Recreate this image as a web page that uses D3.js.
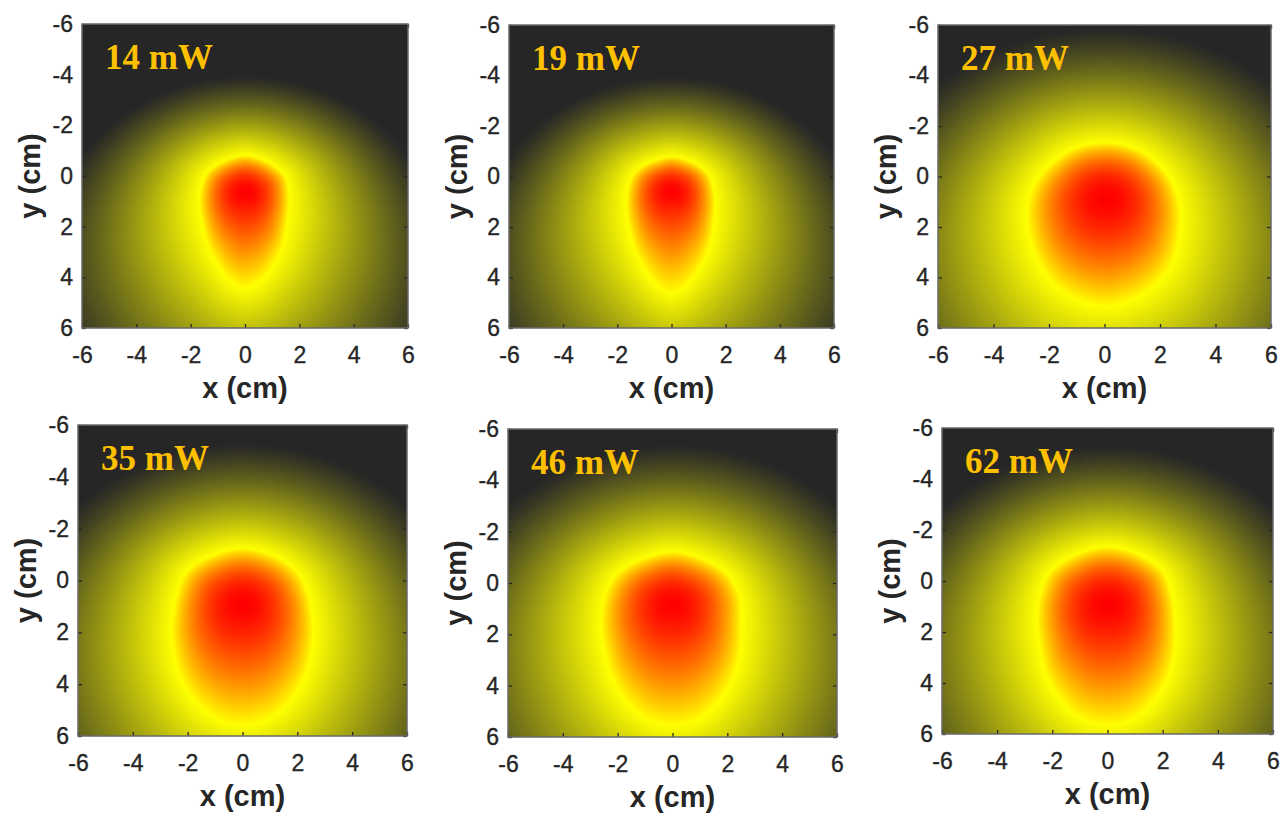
<!DOCTYPE html>
<html>
<head>
<meta charset="utf-8">
<script src="https://cdn.jsdelivr.net/npm/d3@7"></script>
<style>
  body { margin: 0; background: #ffffff; }
  svg { display: block; }
</style>
</head>
<body>
<svg id="chart" width="1280" height="816"></svg>
<script>
// ---- data -------------------------------------------------------------
// Laser power of each temperature map (mW)
const powers = [14, 19, 27, 35, 46, 62];

// Hottest point of each map, [x, y] in cm
const peaks = [[0, 0.7], [0, 0.66], [0.05, 0.95], [0, 1.0], [0, 0.93], [0, 1.0]];

// Outline of the bright-yellow iso-line of each map, [x, y] in cm, in drawing order
const ridge14 = [[0,-0.82],[0.62,-0.66],[1.15,-0.34],[1.5,0.05],[1.62,0.94],[1.52,2.0],[1.34,2.91],[0.85,3.83],[0.5,4.2],[0,4.42],
                 [-0.5,4.2],[-0.81,3.83],[-1.3,2.91],[-1.55,2.0],[-1.67,0.94],[-1.5,0.05],[-1.18,-0.34],[-0.62,-0.66]];
const ridge19 = [[0,-0.79],[0.6,-0.64],[1.11,-0.36],[1.42,0.02],[1.6,0.92],[1.54,2.0],[1.36,2.9],[0.93,3.8],[0.45,4.4],[0,4.62],
                 [-0.45,4.4],[-0.92,3.8],[-1.35,2.9],[-1.57,2.0],[-1.66,0.92],[-1.47,0.02],[-1.16,-0.36],[-0.6,-0.64]];
const ridge27 = [[0.05,-1.35],[1.15,-1.09],[2.07,-0.35],[2.55,0.5],[2.73,1.45],[2.67,2.5],[2.37,3.56],[1.6,4.48],[0.8,4.95],[0.05,5.14],
                 [-0.8,4.95],[-1.6,4.48],[-2.31,3.56],[-2.67,2.5],[-2.79,1.45],[-2.61,0.5],[-2.07,-0.35],[-1.15,-1.09]];
const ridge35 = [[0,-1.24],[1.1,-0.97],[1.97,-0.36],[2.4,0.52],[2.58,1.9],[2.5,2.8],[2.28,3.7],[1.67,4.74],[0.85,5.38],[0,5.58],
                 [-0.85,5.38],[-1.67,4.74],[-2.28,3.7],[-2.5,2.8],[-2.58,1.9],[-2.4,0.52],[-2.03,-0.36],[-1.1,-0.97]];
const ridge46 = [[0,-1.22],[1.1,-0.94],[2.02,-0.33],[2.45,0.52],[2.51,1.7],[2.45,2.8],[2.22,3.66],[1.62,4.7],[0.85,5.35],[0,5.55],
                 [-0.85,5.35],[-1.62,4.7],[-2.22,3.66],[-2.45,2.8],[-2.6,1.7],[-2.48,0.52],[-2.05,-0.33],[-1.1,-0.94]];
const ridge62 = [[0,-1.35],[1.1,-1.06],[2.02,-0.36],[2.32,0.5],[2.44,1.39],[2.42,2.8],[2.2,3.75],[1.6,4.8],[0.85,5.45],[0,5.65],
                 [-0.85,5.45],[-1.6,4.8],[-2.2,3.75],[-2.42,2.8],[-2.56,1.39],[-2.44,0.5],[-2.08,-0.36],[-1.1,-1.06]];
const ridges = [ridge14, ridge19, ridge27, ridge35, ridge46, ridge62];

// Outer edge of the warm zone of each map: circle [cx, cy, radius] in cm
const glows = [[0, 3.5, 7.45], [0, 3.5, 7.45], [0, 3.5, 9.4], [0, 3.5, 8.8], [0, 3.5, 8.9], [0, 3.5, 8.8]];

// Axis ticks (cm)
const ticks = [-6, -4, -2, 0, 2, 4, 6];
const axisDomain = [-6, 6];

// ---- layout -----------------------------------------------------------
const frames = [
  { x0: 82,  x1: 408,  y0: 24,  y1: 328 },
  { x0: 509, x1: 834,  y0: 25,  y1: 328 },
  { x0: 938, x1: 1271, y0: 25,  y1: 328 },
  { x0: 78,  x1: 407,  y0: 425, y1: 736 },
  { x0: 508, x1: 837,  y0: 429, y1: 737 },
  { x0: 942, x1: 1273, y0: 428, y1: 734 }
];
const coreExp = 2.2;    // roundness of the red core
const outerExp = 1.2;   // shape of the fade towards the background

const svg = d3.select("#chart");

// colour map: background grey -> yellow -> red
const colour = d3.scaleLinear().domain([0, 0.5, 1]).range(["#262626", "#ffff00", "#ff0000"]).clamp(true);
const LUT = d3.range(256).map(i => d3.rgb(colour(i / 255)));

// smooth closed outline through the given points (centripetal Catmull-Rom),
// turned into a table of radius against angle around centre c
function radiusTable(pts, c, N) {
  const n = pts.length;
  const P = i => pts[((i % n) + n) % n];
  const samples = [];
  const steps = 80;
  for (let i = 0; i < n; i++) {
    const p0 = P(i - 1), p1 = P(i), p2 = P(i + 1), p3 = P(i + 2);
    const d = (a, b) => Math.pow(Math.hypot(b[0] - a[0], b[1] - a[1]), 0.5) || 1e-6;
    const t0 = 0, t1 = t0 + d(p0, p1), t2 = t1 + d(p1, p2), t3 = t2 + d(p2, p3);
    for (let s = 0; s < steps; s++) {
      const t = t1 + (t2 - t1) * s / steps;
      const lerp = (a, b, ta, tb) => [
        ((tb - t) * a[0] + (t - ta) * b[0]) / (tb - ta),
        ((tb - t) * a[1] + (t - ta) * b[1]) / (tb - ta)
      ];
      const A1 = lerp(p0, p1, t0, t1), A2 = lerp(p1, p2, t1, t2), A3 = lerp(p2, p3, t2, t3);
      const B1 = lerp(A1, A2, t0, t2), B2 = lerp(A2, A3, t1, t3);
      samples.push(lerp(B1, B2, t1, t2));
    }
  }
  const polar = samples.map(([x, y]) => ({ a: Math.atan2(y - c[1], x - c[0]), r: Math.hypot(x - c[0], y - c[1]) }))
                       .sort((u, v) => u.a - v.a);
  const m = polar.length;
  const table = new Float64Array(N);
  let j = 0;
  for (let k = 0; k < N; k++) {
    const a = -Math.PI + 2 * Math.PI * k / N;
    while (j < m && polar[j].a < a) j++;
    const hi = polar[j % m], lo = polar[(j - 1 + m) % m];
    let ah = hi.a, al = lo.a;
    if (j >= m) ah += 2 * Math.PI;
    if (j === 0) al -= 2 * Math.PI;
    const w = ah > al ? (a - al) / (ah - al) : 0;
    table[k] = lo.r * (1 - w) + hi.r * w;
  }
  return table;
}

const sans = "'Liberation Sans', Arial, Helvetica, sans-serif";

powers.forEach((pw, idx) => {
  const f = frames[idx];
  const xs = d3.scaleLinear().domain(axisDomain).range([f.x0, f.x1]);
  const ys = d3.scaleLinear().domain(axisDomain).range([f.y0, f.y1]);
  const c = peaks[idx];
  const g = glows[idx];
  const N = 1440;
  const table = radiusTable(ridges[idx], c, N);
  const Rmin = d3.min(table);

  // raster of the temperature map
  const W = Math.round(f.x1 - f.x0), H = Math.round(f.y1 - f.y0);
  const cv = document.createElement("canvas");
  cv.width = W; cv.height = H;
  const ctx = cv.getContext("2d");
  const img = ctx.createImageData(W, H);
  for (let py = 0; py < H; py++) {
    const y = ys.invert(f.y0 + py + 0.5);
    for (let px = 0; px < W; px++) {
      const x = xs.invert(f.x0 + px + 0.5);
      const dx = x - c[0], dy = y - c[1];
      const r = Math.hypot(dx, dy);
      const a = Math.atan2(dy, dx);
      const fk = (a + Math.PI) / (2 * Math.PI) * N;
      const k0 = Math.floor(fk) % N, k1 = (k0 + 1) % N, fr = fk - Math.floor(fk);
      const Rr = table[k0] * (1 - fr) + table[k1] * fr;
      let v;
      if (r <= Rr) {
        // the red core stays round while the iso-line stretches downwards
        const p = coreExp * Math.pow(Rmin / Rr, 0.7);
        v = 1 - 0.5 * Math.pow(r / Rr, p);
      } else {
        const ux = dx / r, uy = dy / r;
        const cx = c[0] - g[0], cy = c[1] - g[1];
        const b = ux * cx + uy * cy;
        const E = -b + Math.sqrt(b * b - (cx * cx + cy * cy - g[2] * g[2]));
        const s = Math.min(1, (r - Rr) / Math.max(1e-6, E - Rr));
        v = 0.5 * Math.pow(1 - s, outerExp);
      }
      const col = LUT[Math.max(0, Math.min(255, Math.round(v * 255)))];
      const o = (py * W + px) * 4;
      img.data[o] = col.r; img.data[o + 1] = col.g; img.data[o + 2] = col.b; img.data[o + 3] = 255;
    }
  }
  ctx.putImageData(img, 0, 0);

  const panel = svg.append("g").attr("class", "panel");
  panel.append("image")
    .attr("x", xs(-6)).attr("y", ys(-6))
    .attr("width", xs(6) - xs(-6)).attr("height", ys(6) - ys(-6))
    .attr("preserveAspectRatio", "none")
    .attr("href", cv.toDataURL());

  // axes with inward ticks on all four sides
  const tickStyle = sel => {
    sel.select(".domain").remove();
    sel.selectAll(".tick line").attr("stroke", "#262626").attr("stroke-width", 1.3);
    sel.selectAll(".tick text").attr("fill", "#262626")
      .attr("stroke", "#262626").attr("stroke-width", 0.35)
      .style("font-family", sans).style("font-size", "23px");
  };
  panel.append("g").attr("transform", `translate(0,${f.y1})`)
    .call(d3.axisBottom(xs).tickValues(ticks).tickSizeInner(-4).tickSizeOuter(0).tickPadding(19).tickFormat(d3.format("d")))
    .call(tickStyle);
  panel.append("g").attr("transform", `translate(${f.x0},0)`)
    .call(d3.axisLeft(ys).tickValues(ticks).tickSizeInner(-4).tickSizeOuter(0).tickPadding(9).tickFormat(d3.format("d")))
    .call(tickStyle);
  panel.append("g").attr("transform", `translate(0,${f.y0})`)
    .call(d3.axisTop(xs).tickValues(ticks).tickSizeInner(-4).tickSizeOuter(0).tickFormat(""))
    .call(tickStyle);
  panel.append("g").attr("transform", `translate(${f.x1},0)`)
    .call(d3.axisRight(ys).tickValues(ticks).tickSizeInner(-4).tickSizeOuter(0).tickFormat(""))
    .call(tickStyle);

  // plain hyphen for negative tick labels
  panel.selectAll(".tick text").text(function () { return d3.select(this).text().replace("\u2212", "-"); });

  panel.append("rect")
    .attr("x", f.x0).attr("y", f.y0)
    .attr("width", f.x1 - f.x0).attr("height", f.y1 - f.y0)
    .attr("fill", "none").attr("stroke", "#6a6a6a").attr("stroke-width", 1.5);

  // axis titles
  panel.append("text")
    .attr("x", (f.x0 + f.x1) / 2).attr("y", f.y1 + 70)
    .attr("text-anchor", "middle")
    .style("font-family", sans)
    .style("font-size", "29px").style("font-weight", "bold")
    .attr("fill", "#262626")
    .text("x (cm)");
  panel.append("text")
    .attr("transform", `translate(${f.x0 - 42},${(f.y0 + f.y1) / 2}) rotate(-90)`)
    .attr("text-anchor", "middle")
    .style("font-family", sans)
    .style("font-size", "29px").style("font-weight", "bold")
    .attr("fill", "#262626")
    .text("y (cm)");

  // power label
  panel.append("text")
    .attr("x", f.x0 + 23).attr("y", f.y0 + 45)
    .style("font-family", "'Liberation Serif', 'Times New Roman', serif")
    .style("font-size", "35px").style("font-weight", "bold")
    .attr("fill", "#ffc000")
    .text(`${pw} mW`);
});
</script>
</body>
</html>
